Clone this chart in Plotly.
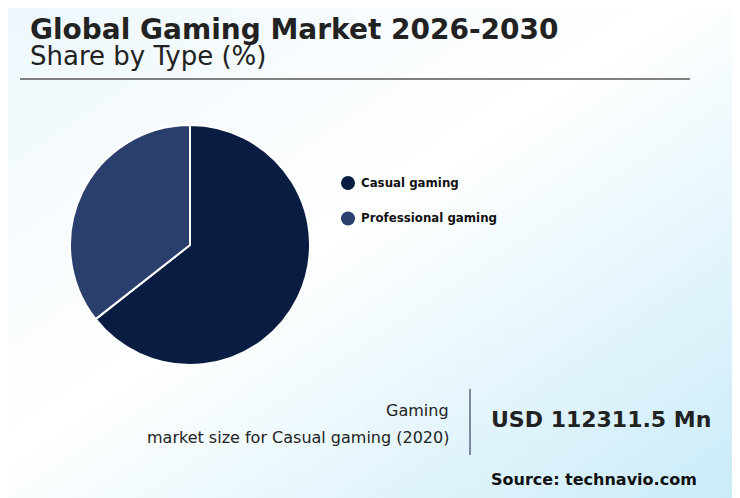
import base64
import plotly.graph_objects as go

W, H = 740, 498
OFF = 8  # page body margin offset

categories = ["Casual gaming", "Professional gaming"]
shares = [64.4, 35.6]
colors = ["#091c41", "#2b3f6e"]

title_text = "Global Gaming Market 2026-2030"
subtitle_text = "Share by Type (%)"
kpi_label_1 = "Gaming"
kpi_label_2 = "market size for Casual gaming (2020)"
kpi_value = "USD 112311.5 Mn"
source_text = "Source: technavio.com"

FONT = "DejaVu Sans"
TXT = "#222222"


def px(x):
    return (x - OFF) / W


def py(y):
    return 1 - (y - OFF) / H


svg = (
    '<svg xmlns="http://www.w3.org/2000/svg" width="740" height="498" preserveAspectRatio="none">'
    '<defs><linearGradient id="g" x1="0" y1="0" x2="1" y2="1">'
    '<stop offset="0" stop-color="#edf7fc"/>'
    '<stop offset="0.45" stop-color="#ffffff"/>'
    '<stop offset="1" stop-color="#c8ebf8"/>'
    '</linearGradient></defs>'
    '<rect width="740" height="498" fill="url(#g)"/></svg>'
)
bg_uri = "data:image/svg+xml;base64," + base64.b64encode(svg.encode()).decode()

fig = go.Figure()
fig.add_trace(go.Pie(
    labels=categories,
    values=shares,
    sort=False,
    direction="clockwise",
    rotation=0,
    marker=dict(colors=colors, line=dict(color="white", width=2)),
    textinfo="none",
    hoverinfo="label+percent",
    showlegend=False,
    domain=dict(x=[px(70), px(310)], y=[py(365), py(125)]),
))

annotations = []


def add_text(text, x, baseline, size, bold=False, anchor="left", color=TXT):
    annotations.append(dict(
        text=f"<b>{text}</b>" if bold else text,
        x=px(x), y=py(baseline - 0.36 * size),
        xref="paper", yref="paper",
        xanchor=anchor, yanchor="middle",
        showarrow=False,
        font=dict(family=FONT, size=size, color=color),
    ))


add_text(title_text, 28, 39.5, 28, bold=True)
add_text(subtitle_text, 28, 65.5, 26)

shapes = []
# legend built from categories
leg_y0 = 183
for i, (cat, col) in enumerate(zip(categories, colors)):
    cy = leg_y0 + 35.5 * i
    shapes.append(dict(type="circle", xref="paper", yref="paper",
                       x0=px(341), x1=px(355), y0=py(cy + 7), y1=py(cy - 7),
                       fillcolor=col, line=dict(width=0)))
    annotations.append(dict(
        text=f"<b>{cat}</b>", x=px(359), y=py(cy),
        xref="paper", yref="paper", xanchor="left", yanchor="middle",
        showarrow=False, font=dict(family=FONT, size=11.8, color="#111111"),
    ))

add_text(kpi_label_1, 451, 416, 16, anchor="right")
add_text(kpi_label_2, 451, 443.5, 16, anchor="right")
add_text(kpi_value, 489, 427, 22, bold=True)
add_text(source_text, 489, 485, 16, bold=True, color="#111111")

shapes.append(dict(type="line", xref="paper", yref="paper",
                   x0=px(20), x1=px(690), y0=py(79), y1=py(79),
                   line=dict(color="#808080", width=2)))
shapes.append(dict(type="line", xref="paper", yref="paper",
                   x0=px(470), x1=px(470), y0=py(389), y1=py(455),
                   line=dict(color="#7b8aa0", width=2)))

fig.update_layout(
    width=W, height=H,
    margin=dict(l=0, r=0, t=0, b=0),
    paper_bgcolor="white",
    plot_bgcolor="rgba(0,0,0,0)",
    annotations=annotations,
    shapes=shapes,
    images=[dict(source=bg_uri, xref="paper", yref="paper", x=0, y=1,
                 sizex=1, sizey=1, sizing="stretch", layer="below",
                 xanchor="left", yanchor="top")],
)

fig.write_html("out.html", config={"displayModeBar": False})
